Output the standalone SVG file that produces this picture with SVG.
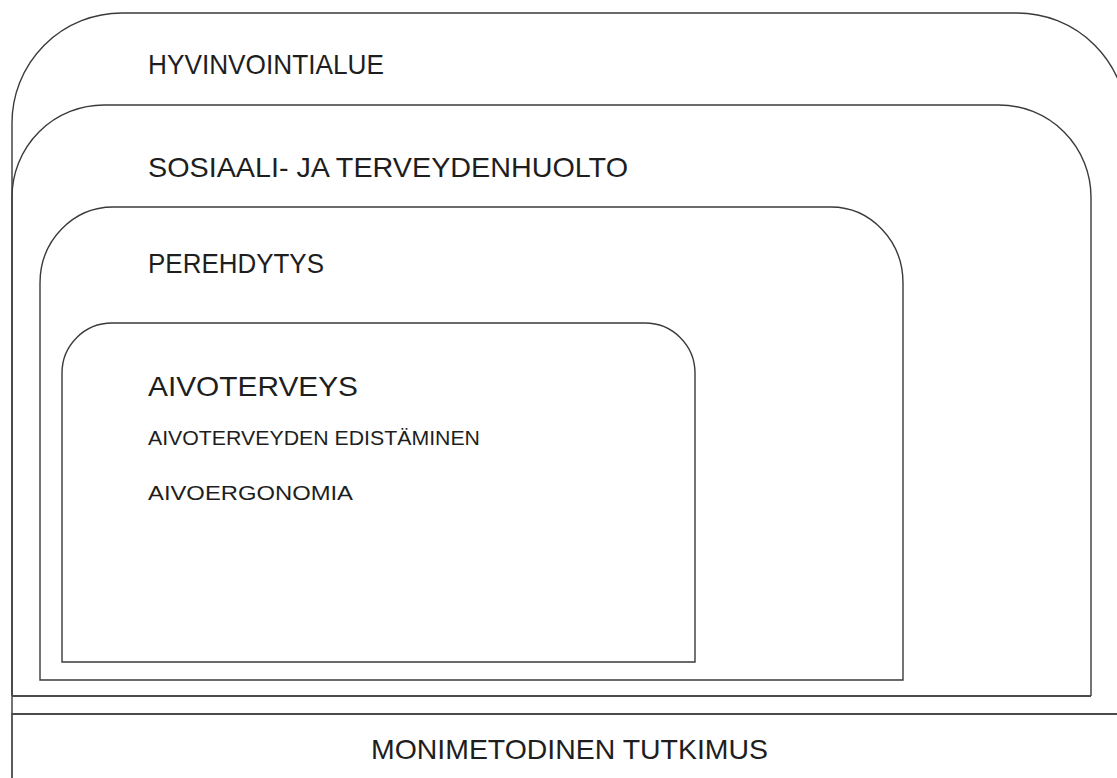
<svg xmlns="http://www.w3.org/2000/svg" width="1117" height="778" viewBox="0 0 1117 778">
  <style>
    .frame { fill: none; stroke: #3a3a3a; stroke-width: 1.4; }
    .band { fill: none; stroke: #4a4a4a; stroke-width: 1.8; }
    .title { font-family: "Liberation Sans", Arial, sans-serif; font-size: 28px; fill: #1e1e1e; }
    .item { font-family: "Liberation Sans", Arial, sans-serif; font-size: 20px; fill: #1e1e1e; }
  </style>
  <rect width="1117" height="778" fill="#ffffff"/>

  <!-- Outermost level: wellbeing services county -->
  <g id="hyvinvointialue">
    <path class="frame" d="M12,714 V123 A110,110 0 0 1 122,13 H1017 A110,110 0 0 1 1127,123 V714"/>
    <text class="title" x="148" y="74" textLength="236" lengthAdjust="spacingAndGlyphs">HYVINVOINTIALUE</text>
  </g>

  <!-- Social and health care -->
  <g id="sosiaali-ja-terveydenhuolto">
    <path class="frame" d="M12,696 V197 A92,92 0 0 1 104,105 H999 A92,92 0 0 1 1091,197 V696"/>
    <line class="band" x1="12" y1="696" x2="1091" y2="696"/>
    <text class="title" x="148" y="177" textLength="480" lengthAdjust="spacingAndGlyphs">SOSIAALI- JA TERVEYDENHUOLTO</text>
  </g>

  <!-- Orientation -->
  <g id="perehdytys">
    <path class="frame" d="M40,680 V283 A73,76 0 0 1 113,207 H831 A72,76 0 0 1 903,283 V680 Z"/>
    <text class="title" x="148" y="273" textLength="176" lengthAdjust="spacingAndGlyphs">PEREHDYTYS</text>
  </g>

  <!-- Brain health -->
  <g id="aivoterveys">
    <path class="frame" d="M62,662 V373 A50,50 0 0 1 112,323 H645 A50,50 0 0 1 695,373 V662 Z"/>
    <text class="title" x="148" y="396" textLength="210" lengthAdjust="spacingAndGlyphs">AIVOTERVEYS</text>
    <text class="item" x="148" y="445" textLength="332" lengthAdjust="spacingAndGlyphs">AIVOTERVEYDEN EDISTÄMINEN</text>
    <text class="item" x="148" y="500" textLength="205" lengthAdjust="spacingAndGlyphs">AIVOERGONOMIA</text>
  </g>

  <!-- Mixed-methods research band -->
  <g id="monimetodinen-tutkimus">
    <path class="band" d="M1130,714 H12 V790"/>
    <text class="title" x="371" y="759" textLength="397" lengthAdjust="spacingAndGlyphs">MONIMETODINEN TUTKIMUS</text>
  </g>
</svg>
